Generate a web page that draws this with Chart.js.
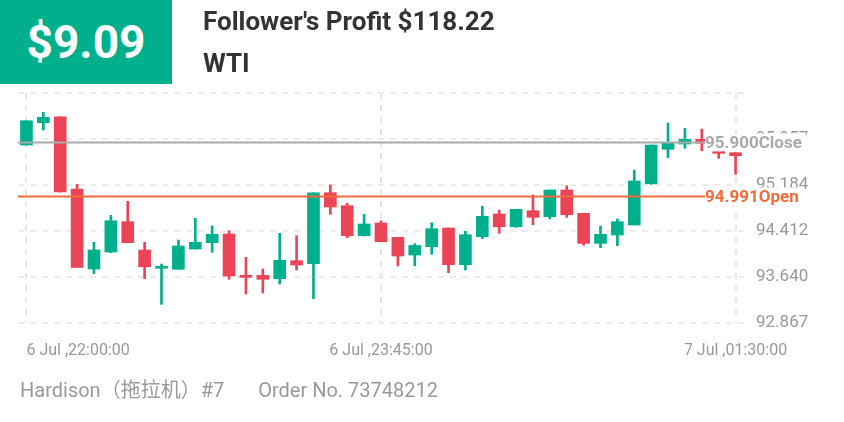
<!DOCTYPE html>
<html><head><meta charset="utf-8">
<script src="https://cdn.jsdelivr.net/npm/chart.js@4"></script>
<style>
body{margin:0;width:844px;height:422px;background:#fff;font-family:Roboto,"Noto Sans CJK SC",sans-serif;position:relative;overflow:hidden}
#badge{position:absolute;left:0;top:0;width:172px;height:84px;background:#00b08c;color:#fff;font-weight:bold;font-size:46px;line-height:84px;text-align:center}
#t1{position:absolute;left:203px;top:6px;font-size:26px;font-weight:bold;color:#333}
#t2{position:absolute;left:203px;top:48px;font-size:26px;font-weight:bold;color:#333}
#foot{position:absolute;left:20px;top:374px;font-size:20px;color:#999}
#cv{position:absolute;left:0;top:0}
</style></head><body>
<canvas id="cv" width="844" height="422"></canvas>
<div id="badge">$9.09</div>
<div id="t1">Follower's Profit $118.22</div>
<div id="t2">WTI</div>
<div id="foot">Hardison（拖拉机）#7<span style="margin-left:34px">Order No. 73748212</span></div>
<script>
const opens=[95.856,96.231,96.331,95.117,93.774,94.059,94.568,94.093,93.786,93.769,94.110,94.216,94.362,93.668,93.668,93.611,93.913,93.863,95.055,94.837,94.333,94.546,94.306,94.009,94.148,94.462,93.846,94.316,94.697,94.484,94.753,94.652,95.101,94.709,94.205,94.345,94.513,95.206,95.784,95.873,95.952,95.750,95.727];
const closes=[96.264,96.321,95.067,93.802,94.093,94.585,94.216,93.812,93.812,94.160,94.222,94.357,93.656,93.634,93.601,93.920,93.841,95.055,94.815,94.333,94.530,94.232,93.992,94.169,94.451,93.846,94.350,94.659,94.484,94.776,94.642,95.101,94.686,94.205,94.357,94.568,95.252,95.856,95.895,95.952,95.885,95.717,95.677];
const highs=[96.264,96.405,96.331,95.196,94.222,94.676,94.911,94.222,93.858,94.261,94.625,94.496,94.417,93.970,93.774,94.373,94.333,95.055,95.184,94.877,94.692,94.585,94.306,94.199,94.551,94.462,94.407,94.827,94.765,94.776,95.017,95.101,95.173,94.709,94.496,94.614,95.436,95.856,96.226,96.137,96.125,95.750,95.727];
const lows=[95.856,96.108,95.067,93.802,93.695,94.048,94.216,93.611,93.181,93.769,94.110,94.054,93.601,93.354,93.371,93.522,93.757,93.275,94.692,94.299,94.328,94.232,93.824,93.829,94.021,93.712,93.757,94.283,94.373,94.474,94.518,94.614,94.642,94.172,94.132,94.165,94.513,95.196,95.643,95.801,95.760,95.633,95.364];
const times=[];for(let i=0;i<43;i++){const m=22*60+i*5;const h=Math.floor(m/60)%24;times.push(h);}
const xLabels={0:"6 Jul ,22:00:00",21:"6 Jul ,23:45:00",42:"7 Jul ,01:30:00"};
const yTicks=[92.867,93.640,94.412,95.184,95.957,96.730];
const closePrice=95.900, openPrice=94.991;
const G="#00b08c",R="#eb4457";
const cols=opens.map((o,i)=>closes[i]>=o?G:R);
const cats=opens.map((_,i)=>String(i));
const overlay={id:'ov',afterDraw(c){
 const x=c.scales.x,y=c.scales.y,ctx=c.ctx;ctx.save();
 function line(v,col,txt,w){const py=y.getPixelForValue(v);ctx.strokeStyle=col;ctx.lineWidth=2;ctx.beginPath();ctx.moveTo(x.left,py);ctx.lineTo(705,py);ctx.stroke();
  ctx.font="bold 17px Roboto";const tw=ctx.measureText(txt).width;ctx.fillStyle="#fff";ctx.fillRect(705,py-9,tw+4,18);ctx.fillStyle=col;ctx.textBaseline="middle";ctx.textAlign="left";ctx.fillText(txt,705,py+1);}
 line(closePrice,"#aaaaaa","95.900Close");
 line(openPrice,"#f26b3a","94.991Open");
 ctx.font="16px Roboto";ctx.fillStyle="#999";ctx.textBaseline="middle";
 for(const k in xLabels){const px=x.getPixelForValue(+k);ctx.textAlign=k==0?"left":"center";ctx.fillText(xLabels[k],k==0?px:px,351);}
 ctx.restore();}};
new Chart(document.getElementById('cv'),{type:'bar',
 data:{labels:cats,datasets:[
  {data:lows.map((l,i)=>[l,highs[i]]),backgroundColor:cols,barThickness:2,grouped:false},
  {data:opens.map((o,i)=>[o,closes[i]]),backgroundColor:cols,barThickness:12,grouped:false,minBarLength:2}]},
 options:{responsive:false,animation:false,layout:{padding:{top:93,left:18,bottom:99,right:0}},
  plugins:{legend:{display:false},tooltip:{enabled:false}},
  scales:{
   x:{offset:true,grid:{offset:false,color:c=>[0,21,42].includes(c.index)?"#e6e6e6":"transparent",lineWidth:2,tickLength:0,drawTicks:false},border:{display:false,dash:[6,6]},ticks:{display:false},afterFit(s){s.height=0}},
   y:{position:'right',min:92.867,max:96.73,afterBuildTicks(s){s.ticks=yTicks.map(v=>({value:v}))},
    grid:{color:"#ececec",lineWidth:2,drawTicks:false},border:{display:false,dash:[6,6]},
    ticks:{padding:12,color:"#999",font:{size:17,family:"Roboto"},callback:v=>v>=96.7?"":v.toFixed(3)},afterFit(s){s.width=100}}}},
 plugins:[overlay]});
</script></body></html>
